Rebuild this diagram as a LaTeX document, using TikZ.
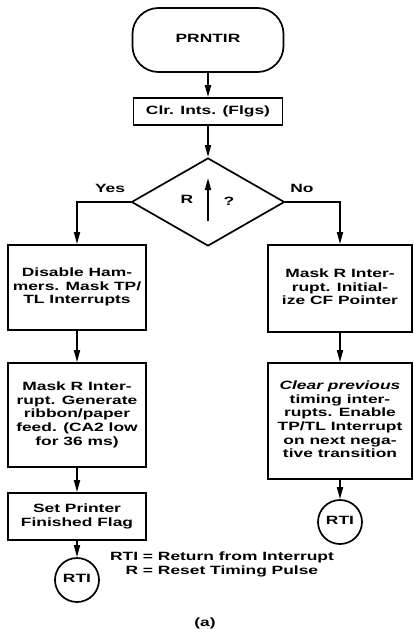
\documentclass[tikz,border=0pt]{standalone}
\usepackage{fontspec}
\setmainfont{Liberation Sans}
\usepackage{graphicx}
\usetikzlibrary{arrows.meta, positioning, shapes.geometric}
% wide bold lettering of the original
\newcommand{\widetext}[1]{\scalebox{1.45}[1]{\begin{tabular}{@{}c@{}}#1\end{tabular}}}
\tikzset{
  flowbox/.style={draw, line width=1.7pt, align=center, inner sep=2pt, font=\bfseries\fontsize{12}{13.7}\selectfont},
  endcircle/.style={draw, circle, line width=1.7pt, minimum size=44pt, inner sep=0pt, font=\bfseries\fontsize{12}{13.7}\selectfont},
  flowarrow/.style={line width=1.7pt, -{Triangle[length=12pt,width=6pt]}},
  lbl/.style={font=\bfseries\fontsize{12}{13.7}\selectfont}
}
\begin{document}
\begin{tikzpicture}[x=1pt, y=-1pt]
  \useasboundingbox (0,0) rectangle (414,629);
  \clip (0,0) rectangle (414,629);

  % --- Top: entry and test ---
  \node[flowbox, rounded corners=26pt, minimum width=151pt, minimum height=64pt] (prntir) at (208,40) {\widetext{PRNTIR}};
  \node[flowbox, minimum width=149pt, minimum height=27pt] (clrints) at (208,111.5) {\widetext{Clr. Ints. (Flgs)}};
  \node[draw, diamond, line width=1.7pt, minimum width=153pt, minimum height=88pt, inner sep=0pt] (rtest) at (208,202) {};
  \node[lbl] (rlabel) at (187,201) {\widetext{R}};
  \node[lbl] (qmark) at (229,203) {\widetext{?}};
  \coordinate (upfoot) at (208,221);
  \coordinate (uptip) at (208,178);
  \draw[flowarrow] (upfoot) -- (uptip);
  \node[lbl] (yes) at (110,190) {\widetext{Yes}};
  \node[lbl] (no) at (302,190) {\widetext{No}};

  % --- Left: Yes branch ---
  \node[flowbox, minimum width=138pt, minimum height=85pt] (hammers) at (77,287.5) {\widetext{Disable Ham-\\mers. Mask TP/\\TL Interrupts}};
  \node[flowbox, minimum width=138pt, minimum height=104pt] (ribbon) at (77,415) {\widetext{Mask R Inter-\\rupt. Generate\\ribbon/paper\\feed. (CA2 low\\for 36 ms)}};
  \node[flowbox, minimum width=138pt, minimum height=47pt] (finflag) at (77,516.5) {\widetext{Set Printer\\Finished Flag}};
  \node[endcircle] (rtileft) at (77,580) {\widetext{RTI}};

  % --- Right: No branch ---
  \node[flowbox, minimum width=144pt, minimum height=87pt] (cfptr) at (340,288.5) {\widetext{Mask R Inter-\\rupt. Initial-\\ize CF Pointer}};
  \node[flowbox, minimum width=144pt, minimum height=116pt] (timing) at (340,421) {\widetext{\textit{Clear previous}\\timing inter-\\rupts. Enable\\TP/TL Interrupt\\on next nega-\\tive transition}};
  \node[endcircle] (rtiright) at (340,522) {\widetext{RTI}};

  % Connectors
  \draw[flowarrow] (prntir) -- (clrints);
  \draw[flowarrow] (clrints) -- (rtest);
  \draw[flowarrow] (rtest.west) -| (hammers.north);
  \draw[flowarrow] (rtest.east) -| (cfptr.north);
  \draw[flowarrow] (hammers) -- (ribbon);
  \draw[flowarrow] (ribbon) -- (finflag);
  \draw[flowarrow] (finflag) -- (rtileft);
  \draw[flowarrow] (cfptr) -- (timing);
  \draw[flowarrow] (timing) -- (rtiright);

  % Legend
  \node[lbl] (legend) at (222,565) {\scalebox{1.45}[1]{\begin{tabular}{@{}r@{ = }l@{}}RTI & Return from Interrupt\\R & Reset Timing Pulse\end{tabular}}};
  \node[lbl, anchor=north, inner sep=0pt] (caption) at (205,617) {\widetext{(a)}};
\end{tikzpicture}
\end{document}
